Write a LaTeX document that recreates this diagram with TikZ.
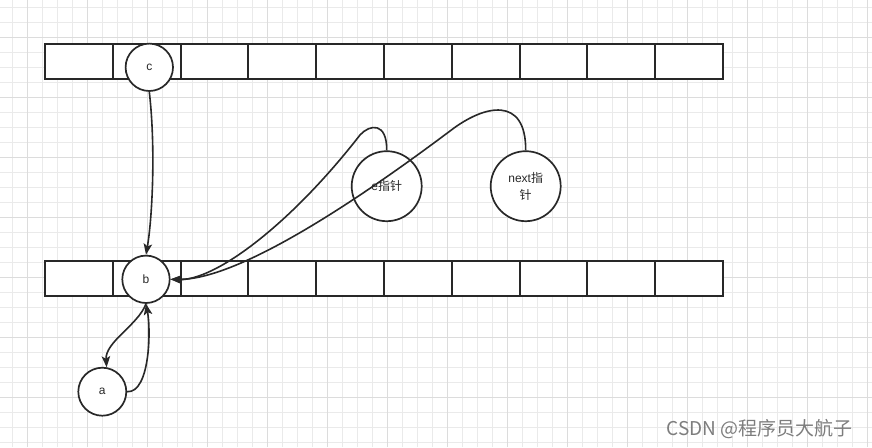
\documentclass[tikz,border=0pt]{standalone}
\usepackage{fontspec}
\setmainfont{Liberation Sans}
\newfontfamily\cjk{Noto Sans CJK SC}
\usetikzlibrary{arrows.meta}
\definecolor{ink}{RGB}{40,40,40}
\definecolor{gridminor}{RGB}{234,234,234}
\definecolor{gridmajor}{RGB}{220,220,220}
\definecolor{wm}{RGB}{125,125,125}
\begin{document}
\begin{tikzpicture}[x=1pt,y=-1pt,
  cellbox/.style={draw=ink,line width=1.9pt,fill=white,minimum width=67.8pt,minimum height=35pt,inner sep=0pt,outer sep=0pt},
  ball/.style={circle,draw=ink,line width=1.7pt,fill=white,inner sep=0pt,text=ink,font=\fontsize{12}{16.5}\selectfont},
  link/.style={draw=ink,line width=1.6pt,-{Stealth[length=11pt,width=8.5pt,inset=2.5pt]}},
  gminor/.style={draw=gridminor,line width=0.8pt},
  gmajor/.style={draw=gridmajor,line width=0.8pt}]
\useasboundingbox (0,0) rectangle (872,447);
\fill[white] (0,0) rectangle (872,447);
% grid
\foreach \i in {0,...,57} \draw[gminor] ({12.7+15*\i},0) -- ({12.7+15*\i},447);
\foreach \j in {0,...,29} \draw[gminor] (0,{7.3+15*\j}) -- (872,{7.3+15*\j});
\foreach \i in {0,...,14} \draw[gmajor] ({27.7+60*\i},0) -- ({27.7+60*\i},447);
\foreach \j in {0,...,6} \draw[gmajor] (0,{37.3+60*\j}) -- (872,{37.3+60*\j});
% arrays
\foreach \k in {0,...,9} {
  \node[cellbox] (t\k) at ({45+33.9+67.8*\k},61.5) {};
  \node[cellbox] (u\k) at ({45+33.9+67.8*\k},278.5) {};
}
% circles
\node[ball,minimum size=47.4pt] (c) at (149.3,67.3) {c};
\node[ball,minimum size=47.4pt] (b) at (146,279.3) {b};
\node[ball,minimum size=48pt] (a) at (102.3,391.7) {a};
\node[ball,minimum size=70pt] (e) at (386.7,186.2) {e{\cjk 指针}};
\node[ball,minimum size=70pt,align=center] (nx) at (525.7,186.2) {next{\cjk 指}\\{\cjk 针}};
% connectors
\draw[link] (c.south) .. controls (156,150) and (152,220) .. (b.north);
\draw[link] (e.north) .. controls (387,122) and (370,124) .. (360,135)
  .. controls (290,225) and (215,281) .. (b.east);
\draw[link] (nx.north) .. controls (526,96) and (485,104) .. (450,131)
  .. controls (330,221) and (230,280) .. (b.east);
\draw[link] (a.east) .. controls (150,393) and (151,330) .. (b.south);
\draw[link] (b.south) .. controls (138,325) and (105,342) .. (a.80);
% watermark
\node[anchor=base west,text=wm,font=\cjk\fontsize{19}{19}\selectfont,inner sep=0pt] (wmk) at (666.5,435) {CSDN @程序员大航子};
\end{tikzpicture}
\end{document}
